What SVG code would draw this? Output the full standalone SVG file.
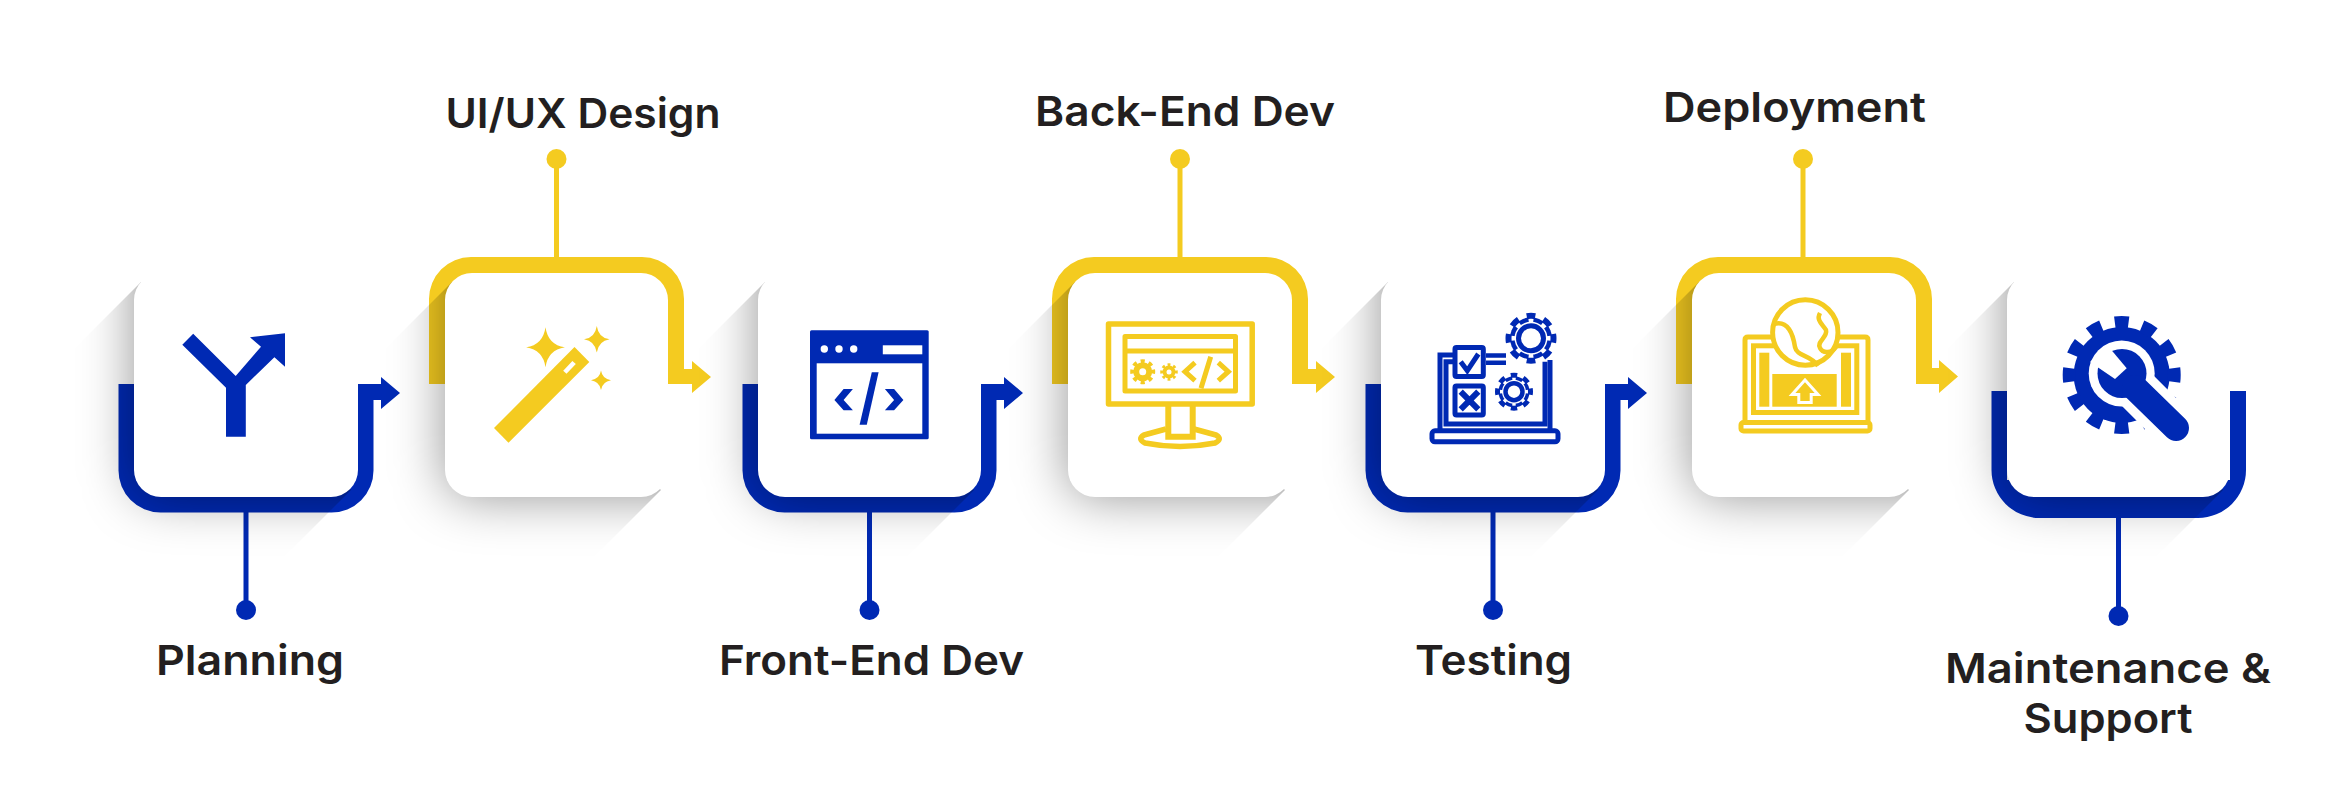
<svg xmlns="http://www.w3.org/2000/svg" width="2327" height="800" viewBox="0 0 2327 800">
<style>
.b{fill:#0029b3}.y{fill:#f4cb20}.w{fill:#fff}
.card{fill:#fff}
.sh{fill:#000;fill-opacity:.42;filter:url(#blur)}
.t{font-family:"Inter","Liberation Sans",sans-serif;font-weight:600;font-size:41px;fill:#231f20;text-anchor:middle}
.cb{stroke:#0029b3;stroke-width:5;fill:none}.cy{stroke:#f4cb20;stroke-width:5;fill:none}
</style>
<defs>
<filter id="blur" x="-50%" y="-50%" width="200%" height="200%"><feGaussianBlur stdDeviation="26"/></filter>
<clipPath id="c0"><path d="M141 282L60 363V590H251L351 490L338 477V300H160Z"/></clipPath>
<clipPath id="c1"><path d="M452 282L371 363V590H561L661 490L648 477V300H471Z"/></clipPath>
<clipPath id="c2"><path d="M765 282L684 363V590H874L974 490L961 477V300H784Z"/></clipPath>
<clipPath id="c3"><path d="M1075 282L994 363V590H1185L1285 490L1272 477V300H1094Z"/></clipPath>
<clipPath id="c4"><path d="M1388 282L1307 363V590H1498L1598 490L1585 477V300H1407Z"/></clipPath>
<clipPath id="c5"><path d="M1699 282L1618 363V590H1809L1909 490L1896 477V300H1718Z"/></clipPath>
<clipPath id="c6"><path d="M2014 282L1933 363V590H2123L2223 490L2210 477V300H2033Z"/></clipPath>
</defs>

<g id="connectors">
<path class="b" d="M118.500 384V470A42 42 0 0 0 160.500 512.500H331A42 42 0 0 0 373.500 470V400H381V409L400 393L381 377V384Z"/>
<path class="y" d="M429 384V299A42 42 0 0 1 471 257H642A42 42 0 0 1 684 299V369H692V361L711 377L692 393V384Z"/>
<path class="b" d="M742.500 384V470A42 42 0 0 0 784.500 512.500H954A42 42 0 0 0 996.500 470V400H1004V409L1023 393L1004 377V384Z"/>
<path class="y" d="M1052 384V299A42 42 0 0 1 1094 257H1266A42 42 0 0 1 1308 299V369H1316V361L1335 377L1316 393V384Z"/>
<path class="b" d="M1365.500 384V470A42 42 0 0 0 1407.500 512.500H1578A42 42 0 0 0 1620.500 470V400H1628V409L1647 393L1628 377V384Z"/>
<path class="y" d="M1676 384V299A42 42 0 0 1 1718 257H1890A42 42 0 0 1 1932 299V368H1939V360L1958 376.500L1939 393V384Z"/>
<path class="b" d="M1991.500 391V470A48 48 0 0 0 2039.500 518H2198A48 48 0 0 0 2246 470V391H2230V480H2007V391Z"/>
<g class="lines">
<rect class="b" x="243.500" y="510" width="5" height="100"/><circle class="b" cx="246" cy="610" r="10"/>
<rect class="y" x="554" y="159" width="5" height="100"/><circle class="y" cx="556.500" cy="159" r="10"/>
<rect class="b" x="867" y="510" width="5" height="100"/><circle class="b" cx="869.500" cy="610" r="10"/>
<rect class="y" x="1177.500" y="159" width="5" height="100"/><circle class="y" cx="1180" cy="159" r="10"/>
<rect class="b" x="1490.500" y="510" width="5" height="100"/><circle class="b" cx="1493" cy="610" r="10"/>
<rect class="y" x="1800.500" y="159" width="5" height="100"/><circle class="y" cx="1803" cy="159" r="10"/>
<rect class="b" x="2116" y="516" width="5" height="100"/><circle class="b" cx="2118.500" cy="616" r="10"/>
</g>
</g>

<g id="node-planning">
<g clip-path="url(#c0)"><rect class="sh" x="134" y="193" width="304" height="304" rx="27"/></g>
<rect class="card" x="134" y="273" width="224" height="224" rx="27"/>
<path class="b" d="M182.300 344.700L193.200 333.700L235.700 376L261 346.700L250 337.300L285 333.300V366.700L274.400 357.300L245.800 385V436.700H226V387.700Z"/>
<text class="t" x="250" y="675" textLength="188" lengthAdjust="spacingAndGlyphs">Planning</text>
</g>

<g id="node-uiux">
<g clip-path="url(#c1)"><rect class="sh" x="445" y="193" width="303" height="304" rx="27"/></g>
<rect class="card" x="445" y="273" width="223" height="224" rx="27"/>
<path class="y" d="M494 428L574.500 347L589.300 362L508.500 442.700Z"/>
<path class="w" d="M563.200 370.700L572.400 361L575.800 364L566.500 373.700Z"/>
<path class="y" d="M545.500 327.300Q548 345 564.900 347.300Q548 350 545.500 367.300Q543 350 526.100 347.300Q543 345 545.500 327.300Z"/>
<path class="y" d="M596.800 326Q598.500 338 609.600 339.300Q598.500 341 596.800 352.600Q595 341 584 339.300Q595 338 596.800 326Z"/>
<path class="y" d="M601 370.600Q602.300 379 611 380.300Q602.300 381.800 601 390Q599.700 381.800 591 380.300Q599.700 379 601 370.600Z"/>
<text class="t" x="583" y="128" textLength="275" lengthAdjust="spacingAndGlyphs">UI/UX Design</text>
</g>

<g id="node-frontend">
<g clip-path="url(#c2)"><rect class="sh" x="758" y="193" width="303" height="304" rx="27"/></g>
<rect class="card" x="758" y="273" width="223" height="224" rx="27"/>
<rect class="b" x="810" y="330.300" width="118.700" height="109" rx="1.500"/>
<rect class="w" x="816.700" y="363.300" width="105.600" height="70.400"/>
<circle class="w" cx="824.300" cy="349" r="3.700"/><circle class="w" cx="839" cy="349" r="3.700"/><circle class="w" cx="853.700" cy="349" r="3.700"/>
<rect class="w" x="882.800" y="345.300" width="39.500" height="9"/>
<path class="b" d="M852.900 389H843.600L834.400 400L843.600 410.300H852.900L843.600 400Z"/>
<path class="b" d="M884.900 389H894.100L903.400 400L894.100 410.300H884.900L894.100 400Z"/>
<path class="b" d="M871.800 372.300H878.600L866.800 424.700H859.600Z"/>
<text class="t" x="871.500" y="675" textLength="305" lengthAdjust="spacingAndGlyphs">Front-End Dev</text>
</g>

<g id="node-backend">
<g clip-path="url(#c3)"><rect class="sh" x="1068" y="193" width="304" height="304" rx="27"/></g>
<rect class="card" x="1068" y="273" width="224" height="224" rx="27"/>
<rect class="cy" x="1108.500" y="324" width="143.700" height="80" style="stroke-width:5.500" stroke-linejoin="round"/>
<rect class="cy" x="1125" y="336.500" width="110.500" height="54.500" stroke-linejoin="round"/>
<path class="cy" d="M1125 351H1235.500"/>
<circle class="y" cx="1142.700" cy="371.700" r="9.500"/>
<circle class="cy" cx="1142.700" cy="371.700" r="10" style="stroke-width:5" pathLength="16" stroke-dasharray="1 1" stroke-dashoffset=".5"/>
<circle class="w" cx="1142.700" cy="371.700" r="3.500"/>
<circle class="y" cx="1169" cy="372" r="6.500"/>
<circle class="cy" cx="1169" cy="372" r="7" style="stroke-width:3.500" pathLength="16" stroke-dasharray="1 1" stroke-dashoffset=".5"/>
<circle class="w" cx="1169" cy="372" r="2.500"/>
<path class="cy" d="M1195 362.700L1185 371.700L1195 380.700M1218.300 362.700L1228.300 371.700L1218.300 380.700M1210.700 356.700L1201 388.300"/>
<path class="cy" style="stroke-width:6" d="M1168.300 406V436.700H1192.700V406"/>
<path class="cy" style="stroke-width:5.500" d="M1166 429L1144 435Q1137 439 1145 443Q1180 450 1215 443Q1223 439 1216 435L1194 429" stroke-linejoin="round"/>
<text class="t" x="1185" y="126" textLength="300" lengthAdjust="spacingAndGlyphs">Back-End Dev</text>
</g>

<g id="node-testing">
<g clip-path="url(#c4)"><rect class="sh" x="1381" y="193" width="304" height="304" rx="27"/></g>
<rect class="card" x="1381" y="273" width="224" height="224" rx="27"/>
<rect class="cb" x="1432" y="430.800" width="126" height="11" rx="3"/>
<path class="cb" d="M1440 429V355H1455M1550 360V429"/>
<path class="cb" d="M1455 361.700H1446V424H1545V361.700"/>
<rect class="cb" x="1455" y="347.500" width="28.300" height="29" rx="1.500"/>
<rect class="cb" x="1455" y="386" width="28.300" height="29" rx="1.500"/>
<path class="cb" d="M1460.700 361.700L1467.300 370.700L1478.300 354"/>
<path class="cb" style="stroke-width:6" d="M1460.700 391.700L1478.300 409.300M1478.300 391.700L1460.700 409.300"/>
<path class="cb" style="stroke-width:4.500" d="M1486 355.500H1506M1486 362.700H1506"/>
<circle class="b" cx="1531" cy="338.300" r="21"/>
<circle class="cb" cx="1531" cy="338.300" r="22.500" style="stroke-width:6" pathLength="16" stroke-dasharray="1 1" stroke-dashoffset=".5"/>
<circle class="w" cx="1531" cy="338.300" r="16.500"/>
<circle class="cb" cx="1531" cy="338.300" r="17.500" style="stroke:#fff;stroke-width:4" pathLength="16" stroke-dasharray=".7 1.300" stroke-dashoffset=".35"/>
<circle class="cb" cx="1531" cy="338.300" r="12.500"/>
<circle class="b" cx="1514" cy="391.700" r="15.500"/>
<circle class="cb" cx="1514" cy="391.700" r="16.500" style="stroke-width:5" pathLength="16" stroke-dasharray="1 1" stroke-dashoffset=".5"/>
<circle class="w" cx="1514" cy="391.700" r="12"/>
<circle class="cb" cx="1514" cy="391.700" r="12.500" style="stroke:#fff;stroke-width:3" pathLength="16" stroke-dasharray=".7 1.300" stroke-dashoffset=".35"/>
<circle class="cb" cx="1514" cy="391.700" r="8.500" style="stroke-width:4.500"/>
<text class="t" x="1493.500" y="675" textLength="157" lengthAdjust="spacingAndGlyphs">Testing</text>
</g>

<g id="node-deployment">
<g clip-path="url(#c5)"><rect class="sh" x="1692" y="193" width="304" height="304" rx="27"/></g>
<rect class="card" x="1692" y="273" width="224" height="224" rx="27"/>
<rect class="cy" x="1741" y="422.500" width="129" height="8.500" rx="2.500"/>
<path class="cy" d="M1745 421V340Q1745 337 1748 337H1865Q1868 337 1868 340V421"/>
<rect class="cy" x="1753.500" y="345.800" width="103.300" height="66.700"/>
<rect class="y" x="1759.300" y="352.700" width="10" height="54"/>
<rect class="y" x="1841" y="352.700" width="10" height="54"/>
<rect class="y" x="1772.300" y="374" width="64.400" height="32.700"/>
<path class="y" d="M1805 380L1792 394.500H1798.800V402.500H1811.200V394.500H1818Z" style="stroke:#fff;stroke-width:3"/>
<circle cx="1805.300" cy="332.500" r="32.700" fill="#fff" stroke="#f4cb20" stroke-width="5"/>
<path class="cy" style="stroke-width:4.500" d="M1774 324C1788 320 1793 334 1795 347C1797 357 1810 354 1818 366"/>
<path class="cy" style="stroke-width:4.500" d="M1820 313C1816 320 1822 324 1826 330C1828 337 1816 342 1820 348C1823 354 1832 353 1836 347"/>
<text class="t" x="1794.500" y="122" textLength="263" lengthAdjust="spacingAndGlyphs">Deployment</text>
</g>

<g id="node-maintenance">
<g clip-path="url(#c6)"><rect class="sh" x="2007" y="193" width="303" height="304" rx="27"/></g>
<rect class="card" x="2007" y="273" width="223" height="224" rx="27"/>
<circle class="b" cx="2121.700" cy="375" r="48"/>
<circle cx="2121.700" cy="375" r="52.500" fill="none" stroke="#0029b3" stroke-width="13" pathLength="24" stroke-dasharray="1 1" stroke-dashoffset=".5"/>
<circle class="w" cx="2121.700" cy="373.500" r="33"/>
<path d="M2135 388L2200 453" stroke="#fff" stroke-width="44" fill="none"/>
<circle class="b" cx="2122" cy="373.500" r="24.500"/>
<path class="w" d="M2115 379L2126.700 368.300L2108 346L2090 362Z"/>
<path d="M2135 388L2176 428" stroke="#0029b3" stroke-width="26" stroke-linecap="round" fill="none"/>
<text class="t" x="2108" y="683" textLength="326" lengthAdjust="spacingAndGlyphs">Maintenance &amp;</text>
<text class="t" x="2108" y="733" textLength="169" lengthAdjust="spacingAndGlyphs">Support</text>
</g>
</svg>
